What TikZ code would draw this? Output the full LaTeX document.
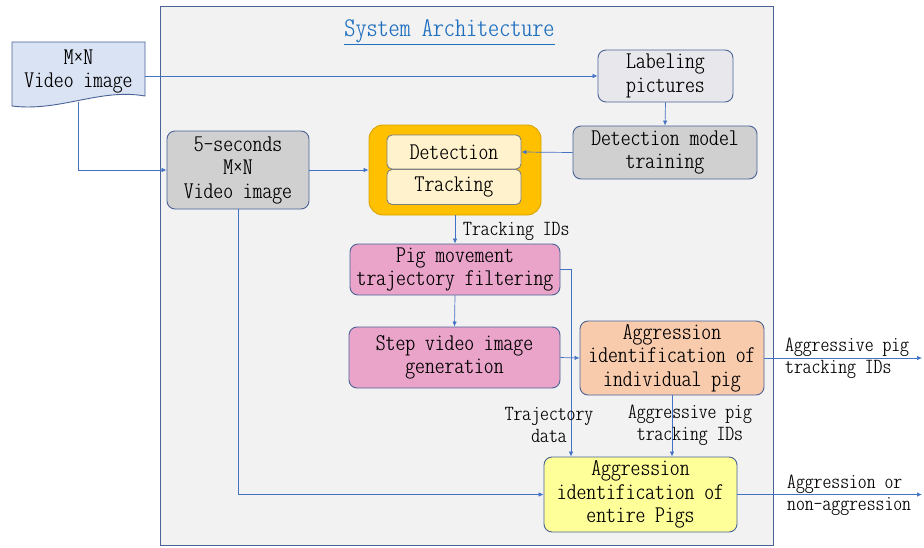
\documentclass[tikz,border=0pt]{standalone}
\usepackage{fontspec}
\newfontfamily\condtt{lmmonoltcond10-regular}[Extension=.otf, FakeStretch=1.17]
\usepackage{tikz}
\usetikzlibrary{arrows.meta}
\definecolor{frameblue}{HTML}{4A6396}
\definecolor{lineblue}{HTML}{4472C4}
\definecolor{titleblue}{HTML}{1F6FBF}
\definecolor{framefill}{HTML}{F2F2F2}
\definecolor{docfill}{HTML}{DAE3F3}
\definecolor{labfill}{HTML}{E8E8EC}
\definecolor{grayfill}{HTML}{D0D0D0}
\definecolor{orangefill}{HTML}{FFC000}
\definecolor{orangeline}{HTML}{D9A300}
\definecolor{creamfill}{HTML}{FFF2CC}
\definecolor{pinkfill}{HTML}{EBA4C9}
\definecolor{peachfill}{HTML}{F8CBAD}
\definecolor{yellowfill}{HTML}{FFFF99}

\begin{document}
\begin{tikzpicture}[x=1pt,y=-1pt,
  box/.style={draw=frameblue, line width=0.9pt, rounded corners=8pt, align=center,
    inner sep=0pt, font=\condtt\fontsize{24}{23.5}\selectfont},
  lbl/.style={align=center, inner sep=0pt, font=\condtt\fontsize{21.6}{22}\selectfont},
  arr/.style={draw=lineblue, line width=0.7pt, -{Latex[length=5pt,width=4.5pt]}}]
\useasboundingbox (0,0) rectangle (924,547);
\draw [frameblue, fill=framefill, line width=0.9pt] (160,6) rectangle (773,545);
\node [font=\condtt\fontsize{27}{26}\selectfont, text=titleblue] (title) at (449.5,32) {\underline{System Architecture}};
\draw [frameblue, fill=docfill, line width=0.9pt] (12,42) -- (145,42) -- (145,96)
  .. controls (100,88) and (60,112) .. (12,106) -- cycle;
\node [box, draw=none, minimum width=133pt, minimum height=60pt] (vid) at (78.5,71.5) {M×N\\Video image};
\node [box, fill=labfill, minimum width=135pt, minimum height=52pt] (lab) at (665.5,76) {Labeling\\pictures};
\node [box, fill=grayfill, minimum width=184pt, minimum height=53pt] (dmt) at (665,152.5) {Detection model\\training};
\node [box, fill=grayfill, minimum width=142pt, minimum height=78pt] (five) at (238,170) {5-seconds\\M×N\\Video image};
\node [box, draw=orangeline, fill=orangefill, rounded corners=14pt, minimum width=172pt, minimum height=90pt] (trk) at (455,170) {};
\node [box, draw=gray, rounded corners=5pt, fill=creamfill, minimum width=134pt, minimum height=34pt] (det) at (454,152) {Detection};
\node [box, draw=gray, rounded corners=5pt, fill=creamfill, minimum width=134pt, minimum height=35pt] (trkin) at (454,187) {Tracking};
\node [box, fill=pinkfill, minimum width=210pt, minimum height=51pt] (pig) at (455,269.5) {Pig movement\\trajectory filtering};
\node [box, fill=pinkfill, minimum width=211pt, minimum height=61pt] (step) at (454.5,357.5) {Step video image\\generation};
\node [box, fill=peachfill, minimum width=184pt, minimum height=74pt] (ind) at (672,358) {Aggression\\identification of\\individual pig};
\node [box, fill=yellowfill, minimum width=193pt, minimum height=75pt] (ent) at (640.5,494.5) {Aggression\\identification of\\entire Pigs};
\coordinate (out1) at (922,358);
\coordinate (out2) at (922,494.5);
\draw [arr] (vid.east |- lab.west) -- (lab.west);
\draw [arr] (lab.south) -- (dmt.north);
\draw [arr] (dmt.west) -- (det.east);
\draw [arr] (vid.south) |- (five.west);
\draw [arr] (five.east) -- (trk.west);
\draw [arr] (trk.south) -- (pig.north);
\node [lbl, anchor=west] (tid) at (463,231) {Tracking IDs};
\draw [arr] (pig.south) -- (step.north);
\draw [arr] (pig.east) -| ([xshift=-69.5pt]ent.north);
\node [lbl] (trj) at (549,425) {Trajectory\\data};
\draw [arr] (step.east) -- (ind.west);
\draw [arr] (ind.east) -- (out1);
\node [lbl, anchor=west, align=left] (aid1) at (785,358) {Aggressive pig\\tracking IDs};
\draw [arr] (ind.south) -- (ind.south |- ent.north);
\node [lbl] (aid2) at (690,425) {Aggressive pig\\tracking IDs};
\draw [arr] (five.south) |- (ent.west);
\draw [arr] (ent.east) -- (out2);
\node [lbl, anchor=west, align=left] (res) at (787,495) {Aggression or\\non-aggression};
\end{tikzpicture}
\end{document}
